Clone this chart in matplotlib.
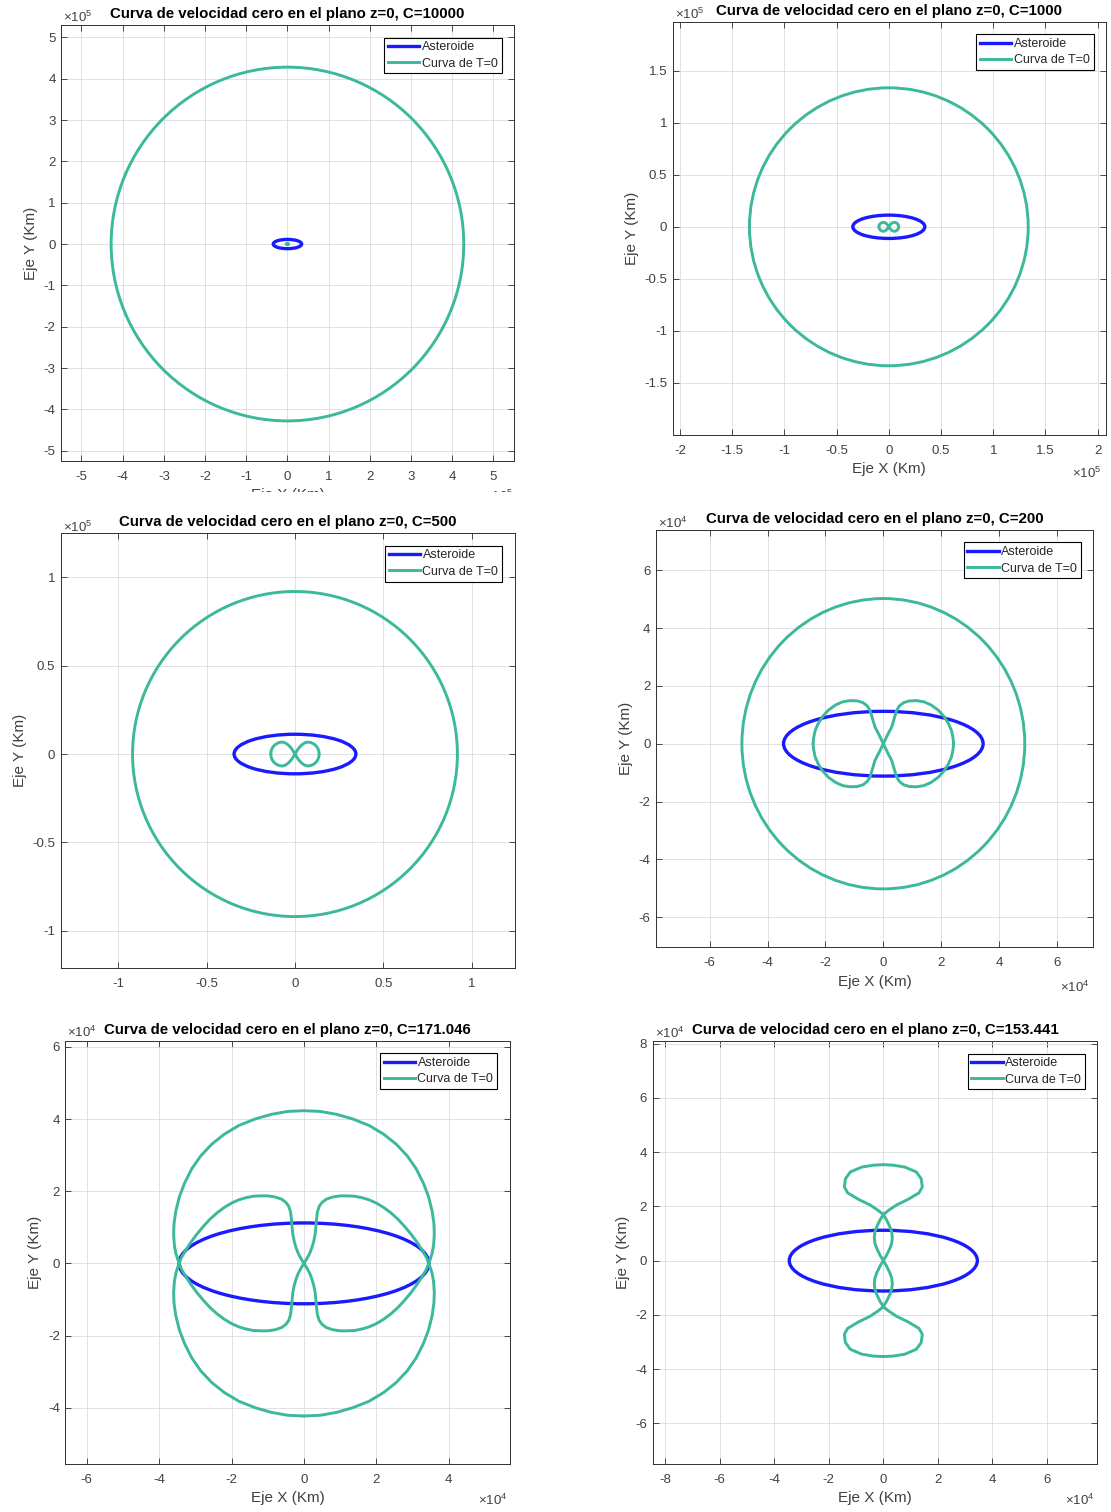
import numpy as np
import matplotlib.pyplot as plt
from matplotlib.patches import Ellipse
from matplotlib.lines import Line2D
from matplotlib.transforms import Bbox, TransformedBbox

plt.rcParams['font.family'] = ['Liberation Sans', 'DejaVu Sans']
plt.rcParams['mathtext.fontset'] = 'custom'
plt.rcParams['mathtext.rm'] = 'Liberation Sans'
plt.rcParams['mathtext.it'] = 'Liberation Sans:italic'

W, H = 1111, 1512
AZUL = '#1a1aff'
VERDE = '#3cb89b'
GRIS = '#404040'
LW_AST = 2.4
LW_T0 = 2.1
KM = 1e4   # todas las curvas en unidades de 1e4 km

# ---- Asteroide (semiejes, x1e4 km) ----
ast_a = 3.45
ast_b = 1.12

# ---- Valores de C ----
C_vals = ["10000", "1000", "500", "200", "171.046", "153.441"]

# ---- Curvas exteriores casi circulares (semiejes x, y; x1e4 km) ----
ext_c10000 = (42.8, 42.8)
ext_c1000 = (13.35, 13.35)
ext_c500 = (9.2, 9.2)
ext_c200 = (4.89, 5.02)

# ---- Curvas interiores, primer cuadrante (x1e4 km) ----
c10000_x = [0, 0.05, 0.1, 0.16, 0.22, 0.27, 0.3]
c10000_y = [0, 0.07, 0.11, 0.14, 0.12, 0.08, 0]

c1000_x = [0, 0.08, 0.17, 0.28, 0.38, 0.5, 0.62, 0.74, 0.83, 0.9, 0.94, 0.95]
c1000_y = [0, 0.13, 0.24, 0.34, 0.4, 0.43, 0.42, 0.36, 0.29, 0.19, 0.09, 0]

c500_x = [0, 0.12, 0.25, 0.4, 0.55, 0.72, 0.9, 1.07, 1.2, 1.3, 1.35, 1.37]
c500_y = [0, 0.2, 0.38, 0.53, 0.63, 0.68, 0.65, 0.57, 0.46, 0.31, 0.17, 0]

c200_x = [0, 0.14, 0.29, 0.39, 0.46, 0.55, 0.7, 0.9, 1.15, 1.4, 1.65, 1.9, 2.1, 2.25, 2.36, 2.41, 2.43]
c200_y = [0, 0.29, 0.58, 0.92, 1.15, 1.3, 1.42, 1.48, 1.49, 1.45, 1.34, 1.16, 0.94, 0.7, 0.45, 0.2, 0]

c171_in_x = [0, 0.08, 0.16, 0.22, 0.27, 0.31, 0.33, 0.35, 0.37, 0.42, 0.5, 0.62, 0.8, 1.0,
             1.2, 1.4, 1.6, 1.8, 2.0, 2.2, 2.4, 2.6, 2.8, 2.98, 3.14, 3.28, 3.38, 3.45]
c171_in_y = [0, 0.13, 0.28, 0.44, 0.61, 0.82, 1.03, 1.25, 1.42, 1.58, 1.69, 1.78, 1.84, 1.87,
             1.87, 1.86, 1.82, 1.76, 1.67, 1.55, 1.4, 1.22, 1.0, 0.78, 0.56, 0.34, 0.17, 0]
c171_ext_x = [0, 0.45, 0.9, 1.35, 1.8, 2.2, 2.55, 2.85, 3.1, 3.3, 3.44, 3.54, 3.59, 3.6,
              3.58, 3.54, 3.49, 3.45]
c171_ext_y = [4.23, 4.21, 4.13, 4.0, 3.82, 3.58, 3.3, 2.98, 2.62, 2.22, 1.85, 1.45, 1.1, 0.8,
              0.5, 0.28, 0.12, 0]

c153_lente_x = [0, 0.12, 0.24, 0.31, 0.33, 0.31, 0.24, 0.13, 0]
c153_lente_y = [0, 0.2, 0.45, 0.65, 0.85, 1.05, 1.25, 1.48, 1.7]
c153_lobulo_x = [0, 0.2, 0.48, 0.91, 1.31, 1.43, 1.39, 1.21, 0.79, 0.36, 0]
c153_lobulo_y = [1.7, 1.86, 2.05, 2.26, 2.5, 2.72, 3.02, 3.27, 3.45, 3.52, 3.54]

# ---- Ejes: posicion en pixeles (izq, arriba, der, abajo), limites y ticks ----
rect_px = [(61.3, 25, 514, 461), (672.7, 21.7, 1106, 435), (60.7, 533.2, 514.6, 967.8),
           (656, 530, 1093.3, 947.3), (65.4, 1040.7, 509.6, 1464), (652.7, 1041, 1097.3, 1464)]
exponentes = [5, 5, 5, 4, 4, 4]
xlims = [(-5.49, 5.5), (-2.07, 2.08), (-1.327, 1.244), (-7.86, 7.26), (-6.59, 5.68), (-8.46, 7.85)]
ylims = [(-5.25, 5.3), (-2.0, 1.97), (-1.21, 1.25), (-7.04, 7.39), (-5.56, 6.17), (-7.5, 8.1)]
xticks = [[-5, -4, -3, -2, -1, 0, 1, 2, 3, 4, 5],
          [-2, -1.5, -1, -0.5, 0, 0.5, 1, 1.5, 2],
          [-1, -0.5, 0, 0.5, 1],
          [-6, -4, -2, 0, 2, 4, 6],
          [-6, -4, -2, 0, 2, 4],
          [-8, -6, -4, -2, 0, 2, 4, 6]]
yticks = [[-5, -4, -3, -2, -1, 0, 1, 2, 3, 4, 5],
          [-1.5, -1, -0.5, 0, 0.5, 1, 1.5],
          [-1, -0.5, 0, 0.5, 1],
          [-6, -4, -2, 0, 2, 4, 6],
          [-4, -2, 0, 2, 4, 6],
          [-6, -4, -2, 0, 2, 4, 6, 8]]
# posicion de los textos x10^n (arriba-izq, abajo-der), en pixeles
exp_top_px = [(78, 17), (690, 14), (78, 527), (673, 523), (82, 1032), (670, 1033)]
exp_bot_px = [(499, 496), (1087, 473), None, (1075, 987), (493, 1500), (1080, 1500)]

fig = plt.figure(figsize=(W / 100, H / 100), dpi=100)


def ejes_px(l, t, r, b):
    return fig.add_axes([l / W, 1 - b / H, (r - l) / W, (b - t) / H])


def cuadrantes(ax, xs, ys, **kw):
    x = np.asarray(xs) * KM
    y = np.asarray(ys) * KM
    for sx, sy in [(1, 1), (-1, 1), (1, -1), (-1, -1)]:
        ax.plot(sx * x, sy * y, solid_capstyle='round', solid_joinstyle='round', **kw)


def contorno(ax, rx, ry):
    ax.add_patch(Ellipse((0, 0), 2 * rx * KM, 2 * ry * KM, fill=False, ec=VERDE, lw=LW_T0))


# recorte para los rotulos cortados en la captura
clip_p1 = TransformedBbox(Bbox([[0, 1 - 492 / H], [1, 1]]), fig.transFigure)

axs = []
for i in range(6):
    ax = ejes_px(*rect_px[i])
    esc = 10.0 ** exponentes[i]
    ax.set_xlim(np.array(xlims[i]) * esc)
    ax.set_ylim(np.array(ylims[i]) * esc)
    ax.set_xticks(np.array(xticks[i]) * esc)
    ax.set_xticklabels([f"{v:g}" for v in xticks[i]])
    ax.set_yticks(np.array(yticks[i]) * esc)
    ax.set_yticklabels([f"{v:g}" for v in yticks[i]])
    ax.tick_params(direction='in', top=True, right=True, length=4, width=0.6,
                   labelsize=9.5, labelcolor=GRIS, color='#303030', pad=4)
    ax.tick_params(axis='x', pad=7)
    for s in ax.spines.values():
        s.set_color('#303030')
        s.set_linewidth(0.7)
    ax.grid(True, color='#dcdcdc', lw=0.6)
    ax.set_axisbelow(True)
    ax.set_title(f"Curva de velocidad cero en el plano z=0, C={C_vals[i]}",
                 fontsize=10.8, fontweight='bold', pad=5)
    ax.set_ylabel("Eje Y (Km)", fontsize=11, color=GRIS, labelpad=4)
    if i != 2:
        ax.set_xlabel("Eje X (Km)", fontsize=11, color=GRIS, labelpad=4)

    # asteroide
    ax.add_patch(Ellipse((0, 0), 2 * ast_a * KM, 2 * ast_b * KM, fill=False, ec=AZUL, lw=LW_AST))

    etiqueta = r'$\times10^{%d}$' % exponentes[i]
    x0, y0 = exp_top_px[i]
    fig.text(x0 / W, 1 - y0 / H, etiqueta, ha='center', va='center', fontsize=9.5, color=GRIS)
    if exp_bot_px[i] is not None:
        x1, y1 = exp_bot_px[i]
        t = fig.text(x1 / W, 1 - y1 / H, etiqueta, ha='center', va='center', fontsize=9.5, color=GRIS)
        if i == 0:
            t.set_clip_box(clip_p1)
            t.set_clip_on(True)
    if i == 0:
        ax.xaxis.label.set_clip_box(clip_p1)
        ax.xaxis.label.set_clip_on(True)

    handles = [Line2D([], [], color=AZUL, lw=LW_AST), Line2D([], [], color=VERDE, lw=LW_T0)]
    leg = ax.legend(handles, ["Asteroide", "Curva de T=0"], loc='upper right', fontsize=9,
                    frameon=True, fancybox=False, edgecolor='black', framealpha=1,
                    handlelength=2.5, handletextpad=0.2, labelspacing=0.35,
                    borderpad=0.3, borderaxespad=1.0)
    leg.get_frame().set_linewidth(0.8)
    for tx in leg.get_texts():
        tx.set_color('#262626')
    axs.append(ax)

# ---- Curvas de velocidad cero ----
contorno(axs[0], *ext_c10000)
cuadrantes(axs[0], c10000_x, c10000_y, color=VERDE, lw=LW_T0)

contorno(axs[1], *ext_c1000)
cuadrantes(axs[1], c1000_x, c1000_y, color=VERDE, lw=LW_T0)

contorno(axs[2], *ext_c500)
cuadrantes(axs[2], c500_x, c500_y, color=VERDE, lw=LW_T0)

contorno(axs[3], *ext_c200)
cuadrantes(axs[3], c200_x, c200_y, color=VERDE, lw=LW_T0)

cuadrantes(axs[4], c171_in_x, c171_in_y, color=VERDE, lw=LW_T0)
cuadrantes(axs[4], c171_ext_x, c171_ext_y, color=VERDE, lw=LW_T0)

cuadrantes(axs[5], c153_lente_x, c153_lente_y, color=VERDE, lw=LW_T0)
cuadrantes(axs[5], c153_lobulo_x, c153_lobulo_y, color=VERDE, lw=LW_T0)

fig.savefig("out.png", dpi=100)
